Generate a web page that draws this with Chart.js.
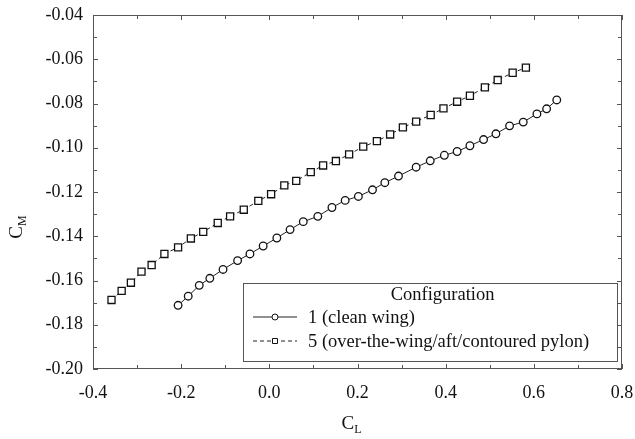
<!DOCTYPE html>
<html>
<head>
<meta charset="utf-8">
<script src="https://cdn.jsdelivr.net/npm/chart.js@4.4.0/dist/chart.umd.min.js"></script>
<style>
  html, body { margin: 0; padding: 0; background: #fff; }
  #wrap { width: 635px; height: 439px; }
</style>
</head>
<body>
<div id="wrap"><canvas id="chart"></canvas></div>
<script>
// configuration 1 (clean wing)
const cleanCL = [-0.207, -0.184, -0.159, -0.135, -0.105, -0.072, -0.044, -0.014, 0.017, 0.047,
  0.077, 0.110, 0.142, 0.172, 0.202, 0.234, 0.262, 0.293, 0.333, 0.365,
  0.397, 0.426, 0.455, 0.486, 0.514, 0.545, 0.576, 0.607, 0.629, 0.652];
const cleanCM = [-0.1712, -0.1671, -0.1622, -0.1590, -0.1550, -0.1510, -0.1480, -0.1444, -0.1408, -0.1370,
  -0.1334, -0.1310, -0.1270, -0.1238, -0.1220, -0.1190, -0.1158, -0.1128, -0.1088, -0.1059,
  -0.1034, -0.1017, -0.0991, -0.0963, -0.0937, -0.0901, -0.0884, -0.0847, -0.0824, -0.0784];
// configuration 5 (over-the-wing/aft/contoured pylon)
const pylonCL = [-0.358, -0.335, -0.314, -0.290, -0.267, -0.238, -0.207, -0.178, -0.150, -0.117,
  -0.089, -0.058, -0.025, 0.004, 0.034, 0.061, 0.094, 0.122, 0.151, 0.181,
  0.213, 0.244, 0.274, 0.303, 0.333, 0.366, 0.395, 0.426, 0.455, 0.489,
  0.518, 0.552, 0.582];
const pylonCM = [-0.1688, -0.1647, -0.1610, -0.1560, -0.1530, -0.1480, -0.1450, -0.1410, -0.1380, -0.1340,
  -0.1310, -0.1280, -0.1240, -0.1210, -0.1170, -0.1150, -0.1110, -0.1080, -0.1060, -0.1030,
  -0.0995, -0.0970, -0.0940, -0.0908, -0.0882, -0.0852, -0.0822, -0.0792, -0.0765, -0.0727,
  -0.0694, -0.0661, -0.0638];

const seriesLabels = ['1 (clean wing)', '5 (over-the-wing/aft/contoured pylon)'];
const legendTitle = 'Configuration';
const xTicks = [-0.4, -0.2, 0.0, 0.2, 0.4, 0.6, 0.8];
const yTicks = [-0.20, -0.18, -0.16, -0.14, -0.12, -0.10, -0.08, -0.06, -0.04];
const xTitle = ['C', 'L'];
const yTitle = ['C', 'M'];

const FONT = '"Liberation Serif", "Times New Roman", serif';
const INK = '#111';
const AXIS = '#555';

function toPoints(xs, ys) {
  return xs.map((v, i) => ({ x: v, y: ys[i] }));
}

// frame, inward ticks on all four sides
const framePlugin = {
  id: 'frame',
  afterDraw(chart) {
    const { ctx, chartArea: a, scales: { x, y } } = chart;
    ctx.save();
    ctx.strokeStyle = AXIS;
    ctx.lineWidth = 1;
    ctx.strokeRect(a.left + 0.5, a.top + 0.5, a.width - 1, a.height - 1);
    ctx.beginPath();
    const xt = [];
    xTicks.forEach((v, i) => {
      xt.push([v, 5]);
      if (i < xTicks.length - 1) xt.push([(v + xTicks[i + 1]) / 2, 4]);
    });
    xt.forEach(([v, len]) => {
      const px = Math.round(x.getPixelForValue(v)) + 0.5;
      ctx.moveTo(px, a.bottom); ctx.lineTo(px, a.bottom - len);
      ctx.moveTo(px, a.top); ctx.lineTo(px, a.top + len);
    });
    const yt = [];
    yTicks.forEach((v, i) => {
      yt.push([v, 5]);
      if (i < yTicks.length - 1) yt.push([(v + yTicks[i + 1]) / 2, 4]);
    });
    yt.forEach(([v, len]) => {
      const py = Math.round(y.getPixelForValue(v)) + 0.5;
      ctx.moveTo(a.left, py); ctx.lineTo(a.left + len, py);
      ctx.moveTo(a.right, py); ctx.lineTo(a.right - len, py);
    });
    ctx.stroke();
    ctx.restore();
  }
};

function drawSubTitle(ctx, parts, cx, cy) {
  ctx.font = '19px ' + FONT;
  const w1 = ctx.measureText(parts[0]).width;
  ctx.font = '12px ' + FONT;
  const w2 = ctx.measureText(parts[1]).width;
  const start = cx - (w1 + w2) / 2;
  ctx.textBaseline = 'middle';
  ctx.textAlign = 'left';
  ctx.font = '19px ' + FONT;
  ctx.fillText(parts[0], start, cy);
  ctx.font = '12px ' + FONT;
  ctx.fillText(parts[1], start + w1, cy + 6);
}

const titlePlugin = {
  id: 'axisTitles',
  afterDraw(chart) {
    const { ctx, chartArea: a } = chart;
    ctx.save();
    ctx.fillStyle = INK;
    drawSubTitle(ctx, xTitle, (a.left + a.right) / 2 - 6, a.bottom + 55);
    ctx.translate(17, a.top + 212);
    ctx.rotate(-Math.PI / 2);
    drawSubTitle(ctx, yTitle, 0, 0);
    ctx.restore();
  }
};

const legendPlugin = {
  id: 'boxLegend',
  afterDraw(chart) {
    const { ctx, chartArea: a } = chart;
    const left = a.left + 150, right = a.right - 5;
    const top = a.bottom - 86, bottom = a.bottom - 8;
    ctx.save();
    ctx.fillStyle = '#fff';
    ctx.fillRect(left, top, right - left, bottom - top);
    ctx.strokeStyle = AXIS;
    ctx.lineWidth = 1;
    ctx.strokeRect(Math.round(left) + 0.5, Math.round(top) + 0.5, Math.round(right - left), Math.round(bottom - top));
    ctx.font = '18.5px ' + FONT;
    ctx.fillStyle = INK;
    ctx.textBaseline = 'middle';
    const textX = left + 65;
    let maxW = 0;
    chart.data.datasets.forEach(ds => { maxW = Math.max(maxW, ctx.measureText(ds.label).width); });
    ctx.textAlign = 'center';
    ctx.fillText(legendTitle, textX + maxW / 2 - 6, top + 12);
    ctx.textAlign = 'left';
    chart.data.datasets.forEach((ds, i) => {
      const yy = top + 34 + i * 24;
      ctx.strokeStyle = ds.borderColor;
      ctx.lineWidth = 1;
      ctx.setLineDash(ds.borderDash || []);
      ctx.beginPath();
      ctx.moveTo(left + 10, yy); ctx.lineTo(left + 54, yy);
      ctx.stroke();
      ctx.setLineDash([]);
      ctx.fillStyle = '#fff';
      ctx.strokeStyle = ds.pointBorderColor;
      ctx.beginPath();
      if (ds.pointStyle === 'rect') ctx.rect(left + 29.5, yy - 2.5, 5, 5);
      else ctx.arc(left + 32, yy, 3, 0, Math.PI * 2);
      ctx.fill();
      ctx.stroke();
      ctx.fillStyle = INK;
      ctx.fillText(ds.label, textX, yy + 1);
    });
    ctx.restore();
  }
};

Chart.defaults.font.family = FONT;
Chart.defaults.color = INK;

new Chart(document.getElementById('chart'), {
  type: 'scatter',
  data: {
    datasets: [
      {
        label: seriesLabels[0],
        data: toPoints(cleanCL, cleanCM),
        showLine: true,
        borderColor: '#222',
        borderWidth: 1,
        pointStyle: 'circle',
        pointRadius: 3.8,
        pointBorderWidth: 1.3,
        pointBorderColor: '#111',
        pointBackgroundColor: '#fff'
      },
      {
        label: seriesLabels[1],
        data: toPoints(pylonCL, pylonCM),
        showLine: true,
        borderColor: '#222',
        borderWidth: 1,
        borderDash: [4, 3],
        pointStyle: 'rect',
        pointRadius: 5,
        pointBorderWidth: 1.3,
        pointBorderColor: '#111',
        pointBackgroundColor: '#fff'
      }
    ]
  },
  options: {
    responsive: true,
    maintainAspectRatio: false,
    animation: false,
    layout: { padding: { top: 15, right: 13, left: 0, bottom: 0 } },
    plugins: {
      legend: { display: false },
      tooltip: { enabled: false }
    },
    scales: {
      x: {
        type: 'linear',
        min: xTicks[0],
        max: xTicks[xTicks.length - 1],
        afterBuildTicks: s => { s.ticks = xTicks.map(v => ({ value: v })); },
        afterFit: s => { s.height = 70; s.paddingLeft = 0; s.paddingRight = 0; },
        grid: { display: false, drawTicks: false },
        border: { display: false },
        ticks: {
          padding: 13,
          font: { size: 18 },
          color: INK,
          maxRotation: 0,
          callback: v => (Math.abs(v) < 1e-9 ? 0 : v).toFixed(1)
        }
      },
      y: {
        type: 'linear',
        min: yTicks[0],
        max: yTicks[yTicks.length - 1],
        afterBuildTicks: s => { s.ticks = yTicks.map(v => ({ value: v })); },
        afterFit: s => { s.width = 93; s.paddingTop = 0; s.paddingBottom = 0; },
        grid: { display: false, drawTicks: false },
        border: { display: false },
        ticks: {
          padding: 10,
          font: { size: 18 },
          color: INK,
          callback: v => v.toFixed(2)
        }
      }
    }
  },
  plugins: [framePlugin, titlePlugin, legendPlugin]
});
</script>
</body>
</html>
